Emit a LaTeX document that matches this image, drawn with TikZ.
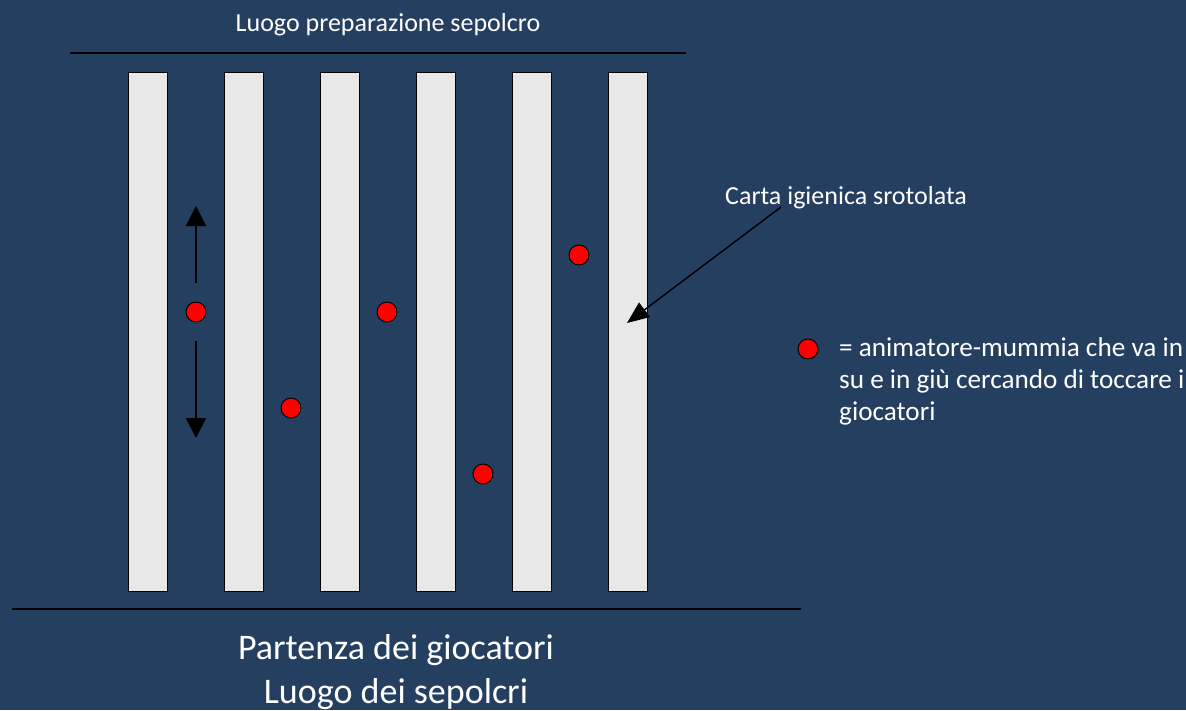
\documentclass[tikz,border=0pt]{standalone}
\usepackage{fontspec}
\setmainfont{Carlito}
\usetikzlibrary{arrows.meta}
\definecolor{bgblue}{RGB}{37,63,96}
\definecolor{barfill}{RGB}{232,232,232}
\definecolor{dotred}{RGB}{255,0,0}
\tikzset{
  x=1pt,y=-1pt,
  barbox/.style={draw=black,line width=1.2pt,fill=barfill,minimum width=39pt,minimum height=519pt,inner sep=0pt,anchor=north west},
  mummy/.style={circle,draw=black,line width=1pt,fill=dotred,minimum size=20pt,inner sep=0pt},
  wtext/.style={text=white,inner sep=0pt,font=\fontsize{26}{30}\selectfont},
  bigtext/.style={text=white,inner sep=0pt,anchor=base,font=\fontsize{36}{42}\selectfont},
  legtext/.style={wtext,anchor=base west,font=\fontsize{27.2}{32}\selectfont},
  sepline/.style={draw=black,line width=1.5pt},
  movearrow/.style={draw=black,line width=1.5pt,-{Triangle[length=20pt,width=20pt]}},
  callout/.style={draw=black,line width=1.5pt,-{Triangle[length=22pt,width=18pt]}}
}
\begin{document}
\begin{tikzpicture}
\fill[bgblue] (0,0) rectangle (1186,710);
\useasboundingbox (0,0) rectangle (1186,710);
% lines
\coordinate (tl1) at (70,53); \coordinate (tl2) at (686,53);
\draw[sepline] (tl1) -- (tl2);
\coordinate (bl1) at (12,609); \coordinate (bl2) at (801,609);
\draw[sepline] (bl1) -- (bl2);
% bars
\foreach \i/\x in {1/128,2/224,3/320,4/416,5/512,6/608}{
  \node[barbox] (bar\i) at (\x,72) {};
}
% texts
\node[wtext,anchor=base] (top) at (388,31) {Luogo preparazione sepolcro};
\node[bigtext] (bottom1) at (396,659) {Partenza dei giocatori};
\node[bigtext] (bottom2) at (396,703) {Luogo dei sepolcri};
% dots
\node[mummy] (m1) at (196,312) {};
\node[mummy] (m2) at (291,408) {};
\node[mummy] (m3) at (387,312) {};
\node[mummy] (m4) at (483,474) {};
\node[mummy] (m5) at (579,255) {};
% movement arrows
\coordinate (upS) at (196,283); \coordinate (upE) at (196,206);
\coordinate (dnS) at (196,341); \coordinate (dnE) at (196,438);
\draw[movearrow] (upS) -- (upE);
\draw[movearrow] (dnS) -- (dnE);
% callout
\node[wtext,anchor=base west] (carta) at (725,204) {Carta igienica srotolata};
\coordinate (cs) at (781,207); \coordinate (ce) at (627,323);
\draw[callout] (cs) -- (ce);
% legend
\node[mummy] (leg) at (808,349) {};
\node[legtext] (leg1) at (839,356) {= animatore-mummia che va in};
\node[legtext] (leg2) at (839,388) {su e in giù cercando di toccare i};
\node[legtext] (leg3) at (839,420) {giocatori};
\end{tikzpicture}
\end{document}
